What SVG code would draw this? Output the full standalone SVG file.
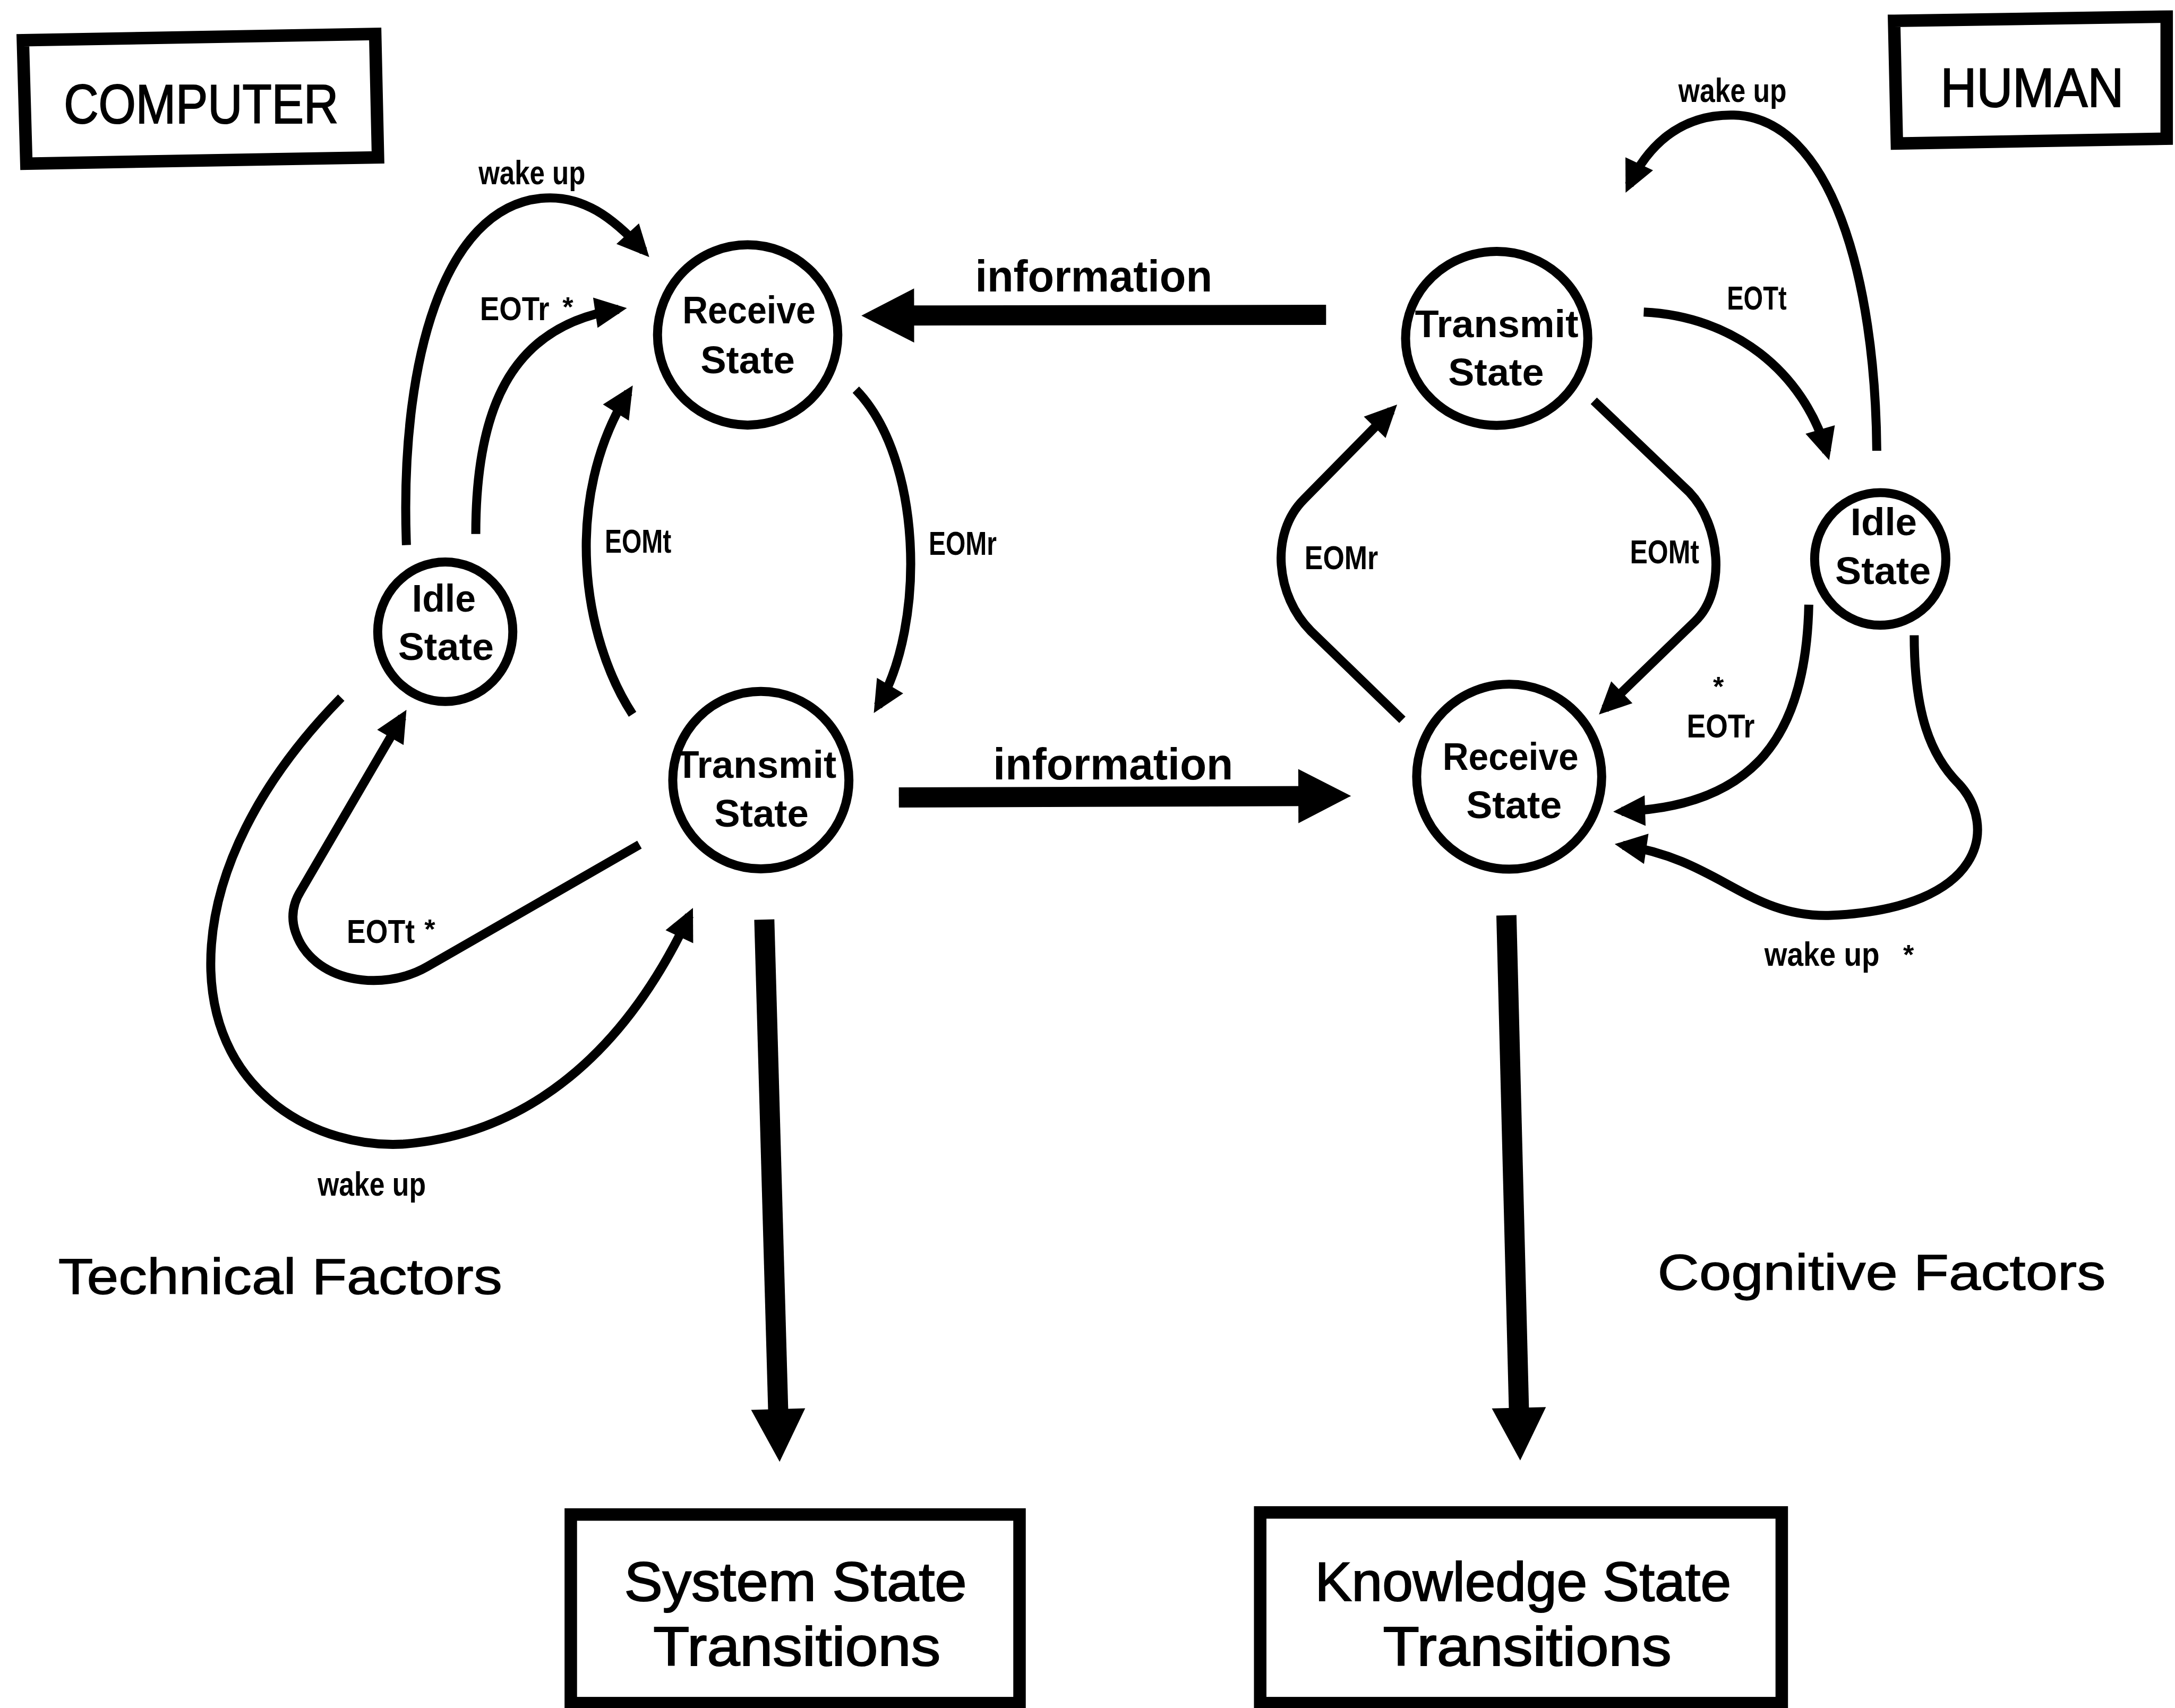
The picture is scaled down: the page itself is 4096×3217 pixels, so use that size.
<svg xmlns="http://www.w3.org/2000/svg" width="4096" height="3217" viewBox="0 0 4096 3217">
<style>
.box{fill:none;stroke:#000;stroke-width:9;stroke-linejoin:miter}
.st{fill:none;stroke:#000;stroke-width:6.5}
.nt{font-family:"Liberation Sans",Arial,sans-serif;font-weight:bold;font-size:28px;fill:#000}
.el{font-family:"Liberation Sans",Arial,sans-serif;font-weight:bold;font-size:24px;fill:#000}
.star{font-family:"Liberation Sans",Arial,sans-serif;font-weight:bold;font-size:20px;fill:#000}
.big{font-family:"Liberation Sans",Arial,sans-serif;font-size:40px;fill:#000;stroke:#000;stroke-width:0.8}
.fac{font-family:"Liberation Sans",Arial,sans-serif;font-size:36px;fill:#000;stroke:#000;stroke-width:0.5}
.info{font-family:"Liberation Sans",Arial,sans-serif;font-weight:bold;font-size:32px;fill:#000}
.thin{fill:none;stroke:#000;stroke-width:6.5;marker-end:url(#arr)}
.thick{fill:none;stroke:#000;stroke-width:14.5;marker-end:url(#bigArr)}
</style>
<defs>
<marker id="arr" markerUnits="userSpaceOnUse" markerWidth="24" markerHeight="24" refX="17" refY="11" orient="auto" overflow="visible">
<path d="M0,0 L23,11 L0,22 Z" fill="#000"/>
</marker>
<marker id="bigArr" markerUnits="userSpaceOnUse" markerWidth="40" markerHeight="40" refX="8" refY="19.5" orient="auto" overflow="visible">
<path d="M0,0 L38,19.5 L0,39 Z" fill="#000"/>
</marker>
</defs>
<rect x="0" y="0" width="4096" height="3217" fill="#fff"/>
<g transform="scale(2.61224)">
<g id="computer-label">
<polygon class="box" points="16.5,29 270.5,24.5 272.5,113.5 19,118"/>
<text class="big" x="46" y="89" font-size="44" textLength="198" lengthAdjust="spacingAndGlyphs">COMPUTER</text>
</g>
<g id="human-label">
<polygon class="box" points="1365.5,15 1562,12 1562,100 1367.5,103.5"/>
<text class="big" x="1399" y="77" font-size="46" textLength="132" lengthAdjust="spacingAndGlyphs">HUMAN</text>
</g>
<g id="c-receive">
<ellipse class="st" cx="539" cy="241.5" rx="65" ry="65"/>
<text class="nt" x="492" y="233" textLength="96" lengthAdjust="spacingAndGlyphs">Receive</text>
<text class="nt" x="505" y="269" textLength="68" lengthAdjust="spacingAndGlyphs">State</text>
</g>
<g id="c-transmit">
<ellipse class="st" cx="548.5" cy="562.5" rx="63.5" ry="64"/>
<text class="nt" x="487" y="561" textLength="116" lengthAdjust="spacingAndGlyphs">Transmit</text>
<text class="nt" x="515" y="596" textLength="68" lengthAdjust="spacingAndGlyphs">State</text>
</g>
<g id="c-idle">
<ellipse class="st" cx="321" cy="455.5" rx="48.7" ry="50.3"/>
<text class="nt" x="297" y="441" textLength="46" lengthAdjust="spacingAndGlyphs">Idle</text>
<text class="nt" x="287" y="476" textLength="69" lengthAdjust="spacingAndGlyphs">State</text>
</g>
<g id="h-transmit">
<ellipse class="st" cx="1079" cy="244" rx="65.7" ry="62.7"/>
<text class="nt" x="1020" y="243" textLength="118" lengthAdjust="spacingAndGlyphs">Transmit</text>
<text class="nt" x="1044" y="278" textLength="69" lengthAdjust="spacingAndGlyphs">State</text>
</g>
<g id="h-receive">
<ellipse class="st" cx="1088" cy="560" rx="66.7" ry="66.7"/>
<text class="nt" x="1040" y="555" textLength="98" lengthAdjust="spacingAndGlyphs">Receive</text>
<text class="nt" x="1057" y="590" textLength="69" lengthAdjust="spacingAndGlyphs">State</text>
</g>
<g id="h-idle">
<ellipse class="st" cx="1355.5" cy="403" rx="47.3" ry="47.8"/>
<text class="nt" x="1334" y="386" textLength="48" lengthAdjust="spacingAndGlyphs">Idle</text>
<text class="nt" x="1323" y="421" textLength="69" lengthAdjust="spacingAndGlyphs">State</text>
</g>
<g id="system-state">
<rect class="box" x="411.5" y="1092" width="323.5" height="136"/>
<text class="big" x="450" y="1154" textLength="247" lengthAdjust="spacingAndGlyphs">System  State</text>
<text class="big" x="471" y="1201" textLength="207" lengthAdjust="spacingAndGlyphs">Transitions</text>
</g>
<g id="knowledge-state">
<rect class="box" x="908.5" y="1090.5" width="376" height="137.5"/>
<text class="big" x="948" y="1154" textLength="300" lengthAdjust="spacingAndGlyphs">Knowledge State</text>
<text class="big" x="997" y="1201" textLength="208" lengthAdjust="spacingAndGlyphs">Transitions</text>
</g>
<g id="technical-factors">
<text class="fac" x="42" y="933" textLength="320" lengthAdjust="spacingAndGlyphs">Technical  Factors</text>
</g>
<g id="cognitive-factors">
<text class="fac" x="1195" y="930" textLength="323" lengthAdjust="spacingAndGlyphs">Cognitive  Factors</text>
</g>
<g id="connectors">
<path class="thick" d="M956,227 L651,227.5"/>
<path class="thick" d="M648,575 L944,574"/>
<path class="thick" d="M551,663 L561.2,1024"/>
<path class="thick" d="M1086,660 L1095.2,1023"/>
<path class="thin" d="M293,393 C288,260 320,150 390,143 C420,140 442,157 464,181"/>
<path class="thin" d="M343,385 C343,300 365,235 446,223"/>
<path class="thin" d="M456,515 C420,460 405,360 453,283"/>
<path class="thin" d="M617,281 C665,330 668,450 633,509"/>
<path class="thin" d="M461,609 L308,697 C275,716 225,708 213,672 C209,660 212,650 217,642 L290,517"/>
<path class="thin" d="M246,503 C190,560 150,630 152,700 C155,790 230,828 290,825 C380,818 450,760 497,660"/>
<path class="thin" d="M1353,325 C1352,200 1320,85 1250,83 C1210,82 1187,107 1174.5,133.5"/>
<path class="thin" d="M1185,225 C1250,228 1300,268 1317,326"/>
<path class="thin" d="M1011,519 L945,455 C920,430 915,385 940,360 L1003,296"/>
<path class="thin" d="M1149,289 L1218,355 C1240,378 1245,426 1222,448 L1157,511"/>
<path class="thin" d="M1304,436 C1302,530 1265,582 1169,585"/>
<path class="thin" d="M1380,458 C1380,515 1392,545 1412,565 C1440,595 1432,655 1320,660 C1260,662 1240,620 1170,609.5"/>
<text class="info" x="703" y="210" textLength="171" lengthAdjust="spacingAndGlyphs">information</text>
<text class="info" x="716" y="562" textLength="173" lengthAdjust="spacingAndGlyphs">information</text>
<text class="el" x="345" y="133" textLength="77" lengthAdjust="spacingAndGlyphs">wake up</text>
<text class="el" x="346" y="231" textLength="50" lengthAdjust="spacingAndGlyphs">EOTr</text>
<text class="star" x="405.5" y="228">*</text>
<text class="el" x="436" y="398.5" textLength="48" lengthAdjust="spacingAndGlyphs">EOMt</text>
<text class="el" x="669.5" y="400" textLength="49" lengthAdjust="spacingAndGlyphs">EOMr</text>
<text class="el" x="250" y="680" textLength="49" lengthAdjust="spacingAndGlyphs">EOTt</text>
<text class="star" x="306" y="677">*</text>
<text class="el" x="229" y="862" textLength="78" lengthAdjust="spacingAndGlyphs">wake up</text>
<text class="el" x="1210" y="73.5" textLength="78" lengthAdjust="spacingAndGlyphs">wake up</text>
<text class="el" x="1245" y="223" textLength="43" lengthAdjust="spacingAndGlyphs">EOTt</text>
<text class="el" x="940.5" y="410.5" textLength="53" lengthAdjust="spacingAndGlyphs">EOMr</text>
<text class="el" x="1175" y="406.3" textLength="50" lengthAdjust="spacingAndGlyphs">EOMt</text>
<text class="star" x="1235" y="502">*</text>
<text class="el" x="1216" y="531.7" textLength="49" lengthAdjust="spacingAndGlyphs">EOTr</text>
<text class="el" x="1272" y="696.2" textLength="83" lengthAdjust="spacingAndGlyphs">wake up</text>
<text class="star" x="1372" y="695">*</text>
</g>
</g>
</svg>
